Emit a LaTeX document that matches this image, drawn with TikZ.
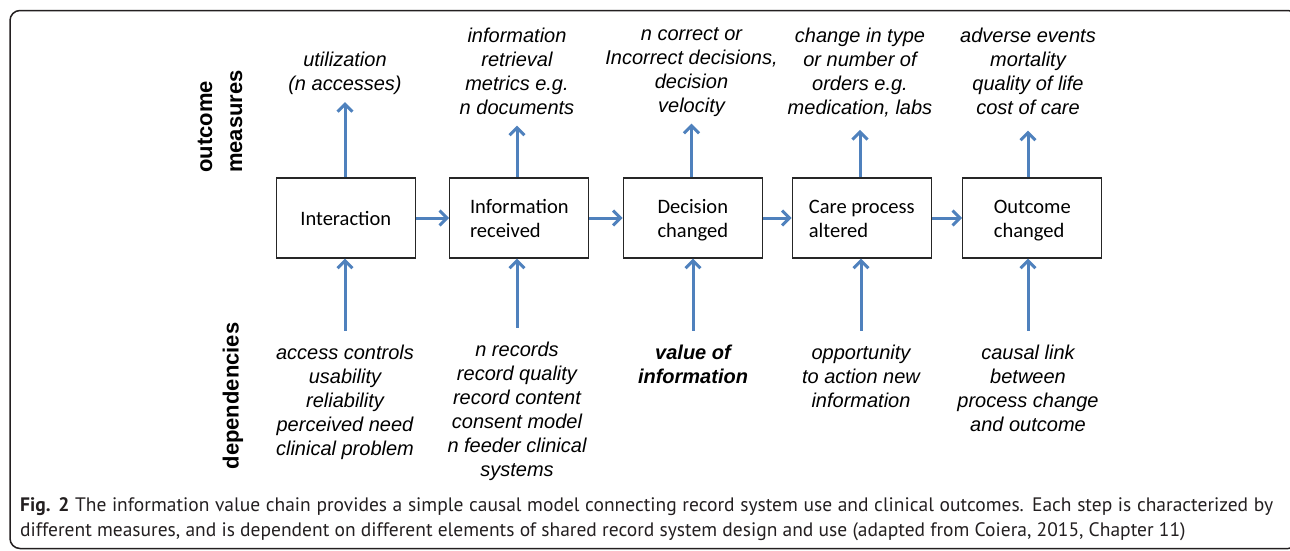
\documentclass[tikz,border=0pt]{standalone}
\usepackage{fontspec}
\setmainfont{Liberation Sans}
\newfontfamily\boxfont{Carlito}
\newfontfamily\capfont{PT Sans}
\usetikzlibrary{arrows.meta}
\definecolor{flow}{RGB}{79,129,189}
\definecolor{ink}{RGB}{35,31,32}
% stage text: left-aligned lines, set slightly below the box centre
\newcommand\stagetext[1]{\raisebox{-2.5pt}[\height][\depth]{\begin{tabular}{@{}l@{}}#1\end{tabular}}}
\begin{document}
\begin{tikzpicture}[x=1pt,y=-1pt,
  stage/.style={draw=black!85, line width=1.2pt, minimum width=139pt, minimum height=80pt,
    inner sep=0pt, font=\boxfont\fontsize{20.5}{24}\selectfont},
  measure/.style={align=center, inner sep=0pt, font=\itshape\fontsize{20}{24}\selectfont},
  keymeasure/.style={measure, font=\bfseries\itshape\fontsize{20}{24}\selectfont},
  flowarrow/.style={draw=flow, line width=3pt, -{Straight Barb[length=7.5pt,width=15pt]}},
  axislabel/.style={rotate=90, align=left, inner sep=0pt, font=\bfseries\fontsize{22}{30}\selectfont}]
\useasboundingbox (0,0) rectangle (1290,550);

% outer frame
\draw[ink, line width=1.5pt, rounded corners=10pt] (10,10.5) rectangle (1298,548.5);

% side headings
\node[axislabel] (om) at (220,121.5) {outcome\\measures};
\node[axislabel] (dep) at (233,396) {dependencies};

% value chain stages
\node[stage] (s1) at (345.8,218) {\stagetext{Interaction}};
\node[stage] (s2) at (519.3,218) {\stagetext{Information\\received}};
\node[stage] (s3) at (692.8,218) {\stagetext{Decision\\changed}};
\node[stage] (s4) at (861.8,218) {\stagetext{Care process\\altered}};
\node[stage] (s5) at (1032.3,218) {\stagetext{Outcome\\changed}};

% outcome measures
\node[measure, anchor=north] (m1) at (345,51.5) {utilization\\(n accesses)};
\node[measure, anchor=north] (m2) at (517,27.5) {information\\retrieval\\metrics e.g.\\n documents};
\node[measure, anchor=north] (m3) at (691.5,27.5) {n correct or\\Incorrect decisions,\\decision\\velocity};
\node[measure, anchor=north] (m4) at (860,27.5) {change in type\\or number of\\orders e.g.\\medication, labs};
\node[measure, anchor=north] (m5) at (1028,27.5) {adverse events\\mortality\\quality of life\\cost of care};

% dependencies
\node[measure, anchor=north] (d1) at (345,344.5) {access controls\\usability\\reliability\\perceived need\\clinical problem};
\node[measure, anchor=north] (d2) at (517,341.5) {n records\\record quality\\record content\\consent model\\n feeder clinical\\systems};
\node[keymeasure, anchor=north] (d3) at (693,344.5) {value of\\information};
\node[measure, anchor=north] (d4) at (861,344.5) {opportunity\\to action new\\information};
\node[measure, anchor=north] (d5) at (1028,344.5) {causal link\\between\\process change\\and outcome};

% chain arrows
\draw[flowarrow] (s1) -- (s2);
\draw[flowarrow] (s2) -- (s3);
\draw[flowarrow] (s3) -- (s4);
\draw[flowarrow] (s4) -- (s5);

% arrows up to the measures
\draw[flowarrow, shorten >=7.5pt] (m1.south |- s1.north) -- (m1.south);
\draw[flowarrow, shorten >=11pt] (m2.south |- s2.north) -- (m2.south);
\draw[flowarrow, shorten >=6.7pt] (m3.south |- s3.north) -- (m3.south);
\draw[flowarrow, shorten >=13pt] (m4.south |- s4.north) -- (m4.south);
\draw[flowarrow, shorten >=16pt] (m5.south |- s5.north) -- (m5.south);

% arrows up from the dependencies
\foreach \i in {1,...,5}
  \draw[flowarrow, shorten <=14pt] (d\i.north) -- (d\i.north |- s\i.south);

% caption
\node[anchor=north west, inner sep=0pt, align=left, text=ink,
      font=\capfont\fontsize{19.5}{24.5}\selectfont] (cap) at (20,497.5)
  {\makebox[1253pt][s]{\textbf{Fig. 2} The information value chain provides a simple causal model connecting record system use and clinical outcomes. Each step is characterized by}\\
   different measures, and is dependent on different elements of shared record system design and use (adapted from Coiera, 2015, Chapter 11)};
\end{tikzpicture}
\end{document}
